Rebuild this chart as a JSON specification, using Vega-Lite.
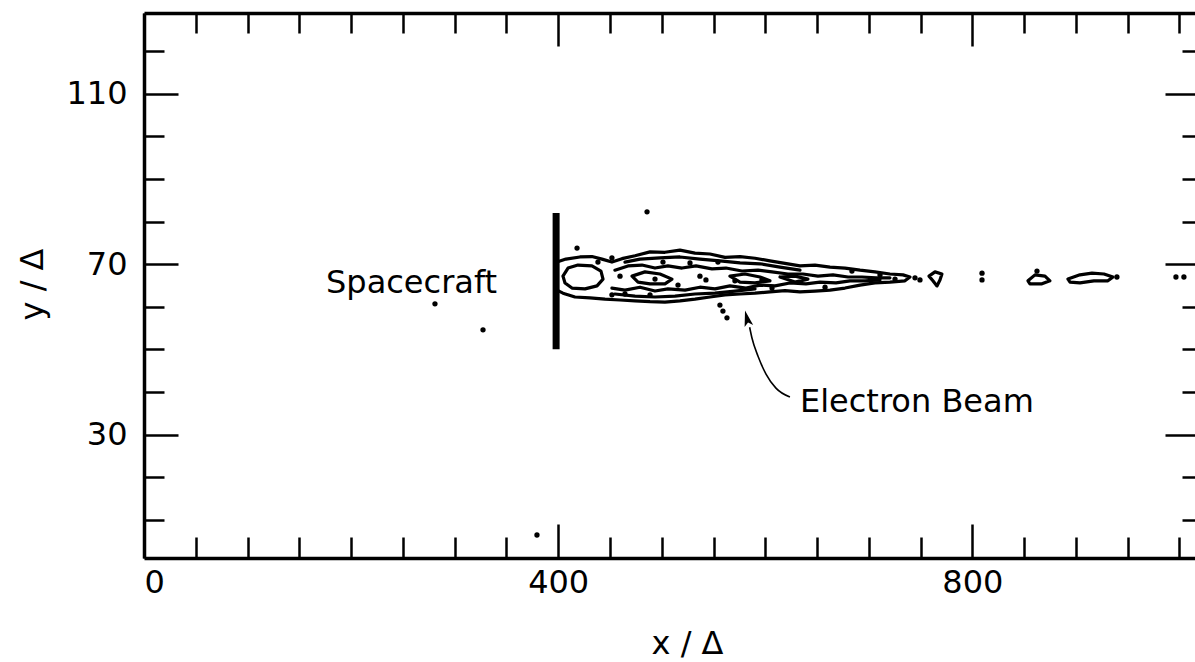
{
  "$schema": "https://vega.github.io/schema/vega-lite/v6.json",
  "width": 1051,
  "height": 545,
  "autosize": "none",
  "padding": {"left": 144, "top": 13, "right": 0, "bottom": 104},
  "background": "white",
  "config": {
    "view": {"stroke": null},
    "font": "DejaVu Sans"
  },
  "datasets": {
    "contours": [
      {"path": "outer", "seq": 1, "x": 398.8, "y": 70.5},
      {"path": "outer", "seq": 2, "x": 407.5, "y": 71.2},
      {"path": "outer", "seq": 3, "x": 421.0, "y": 71.7},
      {"path": "outer", "seq": 4, "x": 432.6, "y": 71.8},
      {"path": "outer", "seq": 5, "x": 442.3, "y": 71.2},
      {"path": "outer", "seq": 6, "x": 451.9, "y": 70.5},
      {"path": "outer", "seq": 7, "x": 461.6, "y": 71.3},
      {"path": "outer", "seq": 8, "x": 474.2, "y": 72.0},
      {"path": "outer", "seq": 9, "x": 488.7, "y": 72.9},
      {"path": "outer", "seq": 10, "x": 503.1, "y": 72.8},
      {"path": "outer", "seq": 11, "x": 517.6, "y": 73.3},
      {"path": "outer", "seq": 12, "x": 532.1, "y": 72.6},
      {"path": "outer", "seq": 13, "x": 546.6, "y": 72.4},
      {"path": "outer", "seq": 14, "x": 561.1, "y": 71.6},
      {"path": "outer", "seq": 15, "x": 575.6, "y": 71.8},
      {"path": "outer", "seq": 16, "x": 590.1, "y": 71.4},
      {"path": "outer", "seq": 17, "x": 604.5, "y": 70.8},
      {"path": "outer", "seq": 18, "x": 619.0, "y": 70.2},
      {"path": "outer", "seq": 19, "x": 633.5, "y": 69.6},
      {"path": "outer", "seq": 20, "x": 648.0, "y": 69.8},
      {"path": "outer", "seq": 21, "x": 662.5, "y": 69.3},
      {"path": "outer", "seq": 22, "x": 677.0, "y": 69.1},
      {"path": "outer", "seq": 23, "x": 691.5, "y": 68.6},
      {"path": "outer", "seq": 24, "x": 705.9, "y": 68.2},
      {"path": "outer", "seq": 25, "x": 720.4, "y": 67.7},
      {"path": "outer", "seq": 26, "x": 733.0, "y": 67.5},
      {"path": "outer", "seq": 27, "x": 739.7, "y": 67.0},
      {"path": "outer", "seq": 28, "x": 734.9, "y": 66.1},
      {"path": "outer", "seq": 29, "x": 720.4, "y": 65.8},
      {"path": "outer", "seq": 30, "x": 705.9, "y": 65.6},
      {"path": "outer", "seq": 31, "x": 691.5, "y": 65.1},
      {"path": "outer", "seq": 32, "x": 677.0, "y": 64.4},
      {"path": "outer", "seq": 33, "x": 662.5, "y": 63.9},
      {"path": "outer", "seq": 34, "x": 648.0, "y": 63.7},
      {"path": "outer", "seq": 35, "x": 633.5, "y": 63.5},
      {"path": "outer", "seq": 36, "x": 619.0, "y": 63.8},
      {"path": "outer", "seq": 37, "x": 604.5, "y": 63.5},
      {"path": "outer", "seq": 38, "x": 590.1, "y": 63.2},
      {"path": "outer", "seq": 39, "x": 575.6, "y": 63.0},
      {"path": "outer", "seq": 40, "x": 561.1, "y": 62.8},
      {"path": "outer", "seq": 41, "x": 546.6, "y": 62.3},
      {"path": "outer", "seq": 42, "x": 532.1, "y": 61.8},
      {"path": "outer", "seq": 43, "x": 517.6, "y": 61.4},
      {"path": "outer", "seq": 44, "x": 503.1, "y": 61.1},
      {"path": "outer", "seq": 45, "x": 488.7, "y": 61.2},
      {"path": "outer", "seq": 46, "x": 474.2, "y": 61.4},
      {"path": "outer", "seq": 47, "x": 459.7, "y": 61.6},
      {"path": "outer", "seq": 48, "x": 445.2, "y": 61.8},
      {"path": "outer", "seq": 49, "x": 430.7, "y": 62.1},
      {"path": "outer", "seq": 50, "x": 416.2, "y": 62.3},
      {"path": "outer", "seq": 51, "x": 404.6, "y": 63.2},
      {"path": "outer", "seq": 52, "x": 398.8, "y": 63.9},

      {"path": "bubble", "seq": 1, "x": 404.6, "y": 67.2},
      {"path": "bubble", "seq": 2, "x": 409.5, "y": 69.1},
      {"path": "bubble", "seq": 3, "x": 419.1, "y": 69.8},
      {"path": "bubble", "seq": 4, "x": 432.6, "y": 69.6},
      {"path": "bubble", "seq": 5, "x": 441.3, "y": 68.4},
      {"path": "bubble", "seq": 6, "x": 443.3, "y": 66.5},
      {"path": "bubble", "seq": 7, "x": 437.5, "y": 64.9},
      {"path": "bubble", "seq": 8, "x": 425.9, "y": 64.2},
      {"path": "bubble", "seq": 9, "x": 413.3, "y": 64.4},
      {"path": "bubble", "seq": 10, "x": 406.6, "y": 65.6},
      {"path": "bubble", "seq": 11, "x": 404.6, "y": 67.2},

      {"path": "top2", "seq": 1, "x": 464.5, "y": 70.5},
      {"path": "top2", "seq": 2, "x": 479.0, "y": 71.2},
      {"path": "top2", "seq": 3, "x": 498.3, "y": 71.5},
      {"path": "top2", "seq": 4, "x": 517.6, "y": 71.7},
      {"path": "top2", "seq": 5, "x": 536.9, "y": 71.2},
      {"path": "top2", "seq": 6, "x": 556.2, "y": 70.8},
      {"path": "top2", "seq": 7, "x": 575.6, "y": 70.3},
      {"path": "top2", "seq": 8, "x": 594.9, "y": 70.1},
      {"path": "top2", "seq": 9, "x": 614.2, "y": 69.3},
      {"path": "top2", "seq": 10, "x": 633.5, "y": 68.6},

      {"path": "inner1", "seq": 1, "x": 454.8, "y": 68.6},
      {"path": "inner1", "seq": 2, "x": 467.4, "y": 69.6},
      {"path": "inner1", "seq": 3, "x": 480.9, "y": 69.8},
      {"path": "inner1", "seq": 4, "x": 493.5, "y": 69.1},
      {"path": "inner1", "seq": 5, "x": 506.0, "y": 69.6},
      {"path": "inner1", "seq": 6, "x": 519.6, "y": 69.1},
      {"path": "inner1", "seq": 7, "x": 533.1, "y": 69.6},
      {"path": "inner1", "seq": 8, "x": 548.5, "y": 68.9},
      {"path": "inner1", "seq": 9, "x": 562.0, "y": 69.1},
      {"path": "inner1", "seq": 10, "x": 577.5, "y": 68.4},
      {"path": "inner1", "seq": 11, "x": 593.0, "y": 68.6},
      {"path": "inner1", "seq": 12, "x": 606.5, "y": 68.2},
      {"path": "inner1", "seq": 13, "x": 621.9, "y": 67.7},
      {"path": "inner1", "seq": 14, "x": 636.4, "y": 67.7},
      {"path": "inner1", "seq": 15, "x": 650.9, "y": 67.2},
      {"path": "inner1", "seq": 16, "x": 665.4, "y": 67.5},
      {"path": "inner1", "seq": 17, "x": 679.9, "y": 67.0},
      {"path": "inner1", "seq": 18, "x": 693.4, "y": 67.0},
      {"path": "inner1", "seq": 19, "x": 706.9, "y": 66.8},
      {"path": "inner1", "seq": 20, "x": 720.4, "y": 66.8},

      {"path": "inner2", "seq": 1, "x": 451.9, "y": 64.4},
      {"path": "inner2", "seq": 2, "x": 464.5, "y": 63.9},
      {"path": "inner2", "seq": 3, "x": 479.0, "y": 64.6},
      {"path": "inner2", "seq": 4, "x": 493.5, "y": 63.7},
      {"path": "inner2", "seq": 5, "x": 506.0, "y": 64.2},
      {"path": "inner2", "seq": 6, "x": 522.5, "y": 63.9},
      {"path": "inner2", "seq": 7, "x": 536.9, "y": 64.6},
      {"path": "inner2", "seq": 8, "x": 551.4, "y": 64.2},
      {"path": "inner2", "seq": 9, "x": 565.9, "y": 64.9},
      {"path": "inner2", "seq": 10, "x": 581.4, "y": 64.4},
      {"path": "inner2", "seq": 11, "x": 594.9, "y": 65.1},
      {"path": "inner2", "seq": 12, "x": 609.4, "y": 64.9},
      {"path": "inner2", "seq": 13, "x": 623.8, "y": 65.6},
      {"path": "inner2", "seq": 14, "x": 639.3, "y": 65.4},
      {"path": "inner2", "seq": 15, "x": 652.8, "y": 65.8},
      {"path": "inner2", "seq": 16, "x": 668.3, "y": 65.6},
      {"path": "inner2", "seq": 17, "x": 681.8, "y": 66.1},
      {"path": "inner2", "seq": 18, "x": 696.3, "y": 66.1},
      {"path": "inner2", "seq": 19, "x": 710.8, "y": 66.3},

      {"path": "bottom2", "seq": 1, "x": 454.8, "y": 63.0},
      {"path": "bottom2", "seq": 2, "x": 474.2, "y": 62.5},
      {"path": "bottom2", "seq": 3, "x": 493.5, "y": 62.3},
      {"path": "bottom2", "seq": 4, "x": 512.8, "y": 62.5},
      {"path": "bottom2", "seq": 5, "x": 532.1, "y": 63.0},
      {"path": "bottom2", "seq": 6, "x": 551.4, "y": 63.2},
      {"path": "bottom2", "seq": 7, "x": 570.7, "y": 63.7},
      {"path": "bottom2", "seq": 8, "x": 590.1, "y": 64.2},

      {"path": "loop3", "seq": 1, "x": 471.3, "y": 67.2},
      {"path": "loop3", "seq": 2, "x": 483.8, "y": 68.2},
      {"path": "loop3", "seq": 3, "x": 498.3, "y": 67.7},
      {"path": "loop3", "seq": 4, "x": 509.9, "y": 66.5},
      {"path": "loop3", "seq": 5, "x": 503.1, "y": 65.4},
      {"path": "loop3", "seq": 6, "x": 488.7, "y": 65.4},
      {"path": "loop3", "seq": 7, "x": 477.1, "y": 65.8},
      {"path": "loop3", "seq": 8, "x": 471.3, "y": 67.2},

      {"path": "loop4", "seq": 1, "x": 565.9, "y": 67.2},
      {"path": "loop4", "seq": 2, "x": 580.4, "y": 67.7},
      {"path": "loop4", "seq": 3, "x": 594.9, "y": 67.0},
      {"path": "loop4", "seq": 4, "x": 604.5, "y": 66.1},
      {"path": "loop4", "seq": 5, "x": 590.1, "y": 65.6},
      {"path": "loop4", "seq": 6, "x": 575.6, "y": 65.8},
      {"path": "loop4", "seq": 7, "x": 565.9, "y": 67.2},

      {"path": "loop5", "seq": 1, "x": 614.2, "y": 67.0},
      {"path": "loop5", "seq": 2, "x": 628.7, "y": 67.2},
      {"path": "loop5", "seq": 3, "x": 641.2, "y": 66.5},
      {"path": "loop5", "seq": 4, "x": 628.7, "y": 65.8},
      {"path": "loop5", "seq": 5, "x": 614.2, "y": 67.0},

      {"path": "blobA", "seq": 1, "x": 758.1, "y": 67.2},
      {"path": "blobA", "seq": 2, "x": 763.9, "y": 68.2},
      {"path": "blobA", "seq": 3, "x": 770.6, "y": 67.7},
      {"path": "blobA", "seq": 4, "x": 768.7, "y": 66.3},
      {"path": "blobA", "seq": 5, "x": 765.8, "y": 64.9},
      {"path": "blobA", "seq": 6, "x": 761.9, "y": 66.1},
      {"path": "blobA", "seq": 7, "x": 758.1, "y": 67.2},

      {"path": "blobB", "seq": 1, "x": 853.7, "y": 66.1},
      {"path": "blobB", "seq": 2, "x": 860.5, "y": 67.5},
      {"path": "blobB", "seq": 3, "x": 870.1, "y": 67.2},
      {"path": "blobB", "seq": 4, "x": 874.9, "y": 66.1},
      {"path": "blobB", "seq": 5, "x": 867.2, "y": 65.4},
      {"path": "blobB", "seq": 6, "x": 855.6, "y": 65.4},
      {"path": "blobB", "seq": 7, "x": 853.7, "y": 66.1},

      {"path": "blobC", "seq": 1, "x": 892.3, "y": 66.5},
      {"path": "blobC", "seq": 2, "x": 903.9, "y": 67.5},
      {"path": "blobC", "seq": 3, "x": 915.5, "y": 67.9},
      {"path": "blobC", "seq": 4, "x": 927.1, "y": 67.7},
      {"path": "blobC", "seq": 5, "x": 935.8, "y": 67.0},
      {"path": "blobC", "seq": 6, "x": 930.9, "y": 66.1},
      {"path": "blobC", "seq": 7, "x": 917.4, "y": 66.1},
      {"path": "blobC", "seq": 8, "x": 903.9, "y": 65.6},
      {"path": "blobC", "seq": 9, "x": 894.3, "y": 65.8},
      {"path": "blobC", "seq": 10, "x": 892.3, "y": 66.5}
    ],
    "specks": [
      {"x": 418.2, "y": 73.8}, {"x": 485.8, "y": 82.3}, {"x": 281.0, "y": 60.7},
      {"x": 327.4, "y": 54.6}, {"x": 379.5, "y": 6.4}, {"x": 556.2, "y": 60.4},
      {"x": 559.1, "y": 59.0}, {"x": 563.0, "y": 57.4}, {"x": 809.3, "y": 67.9},
      {"x": 809.3, "y": 66.3}, {"x": 862.4, "y": 68.4}, {"x": 939.6, "y": 67.0},
      {"x": 725.3, "y": 66.5}, {"x": 744.6, "y": 66.8}, {"x": 749.4, "y": 66.3},
      {"x": 996.6, "y": 67.0}, {"x": 1004.3, "y": 67.0}, {"x": 459.7, "y": 67.2},
      {"x": 493.5, "y": 66.5}, {"x": 501.2, "y": 70.5}, {"x": 515.7, "y": 65.1},
      {"x": 527.3, "y": 70.3}, {"x": 542.7, "y": 66.3}, {"x": 554.3, "y": 70.5},
      {"x": 570.7, "y": 66.1}, {"x": 536.9, "y": 67.2}, {"x": 596.8, "y": 66.3},
      {"x": 488.7, "y": 62.8}, {"x": 451.9, "y": 62.8}, {"x": 464.5, "y": 63.0},
      {"x": 606.5, "y": 64.4}, {"x": 657.7, "y": 64.6}, {"x": 683.7, "y": 68.4},
      {"x": 710.8, "y": 67.5}, {"x": 438.4, "y": 70.5}, {"x": 451.9, "y": 71.5}
    ],
    "pointer": [
      {"seq": 1, "x": 623.8, "y": 38.8},
      {"seq": 2, "x": 610.3, "y": 40.9},
      {"seq": 3, "x": 600.7, "y": 44.2},
      {"seq": 4, "x": 593.0, "y": 48.4},
      {"seq": 5, "x": 587.2, "y": 52.6},
      {"seq": 6, "x": 584.9, "y": 55.2}
    ],
    "labels": [
      {"text": "Spacecraft", "x": 175.8, "y": 63.2},
      {"text": "Electron Beam", "x": 633.5, "y": 35.3}
    ]
  },
  "layer": [
    {
      "data": {"values": [{"x": 398, "y": 50, "y2": 82}]},
      "mark": {"type": "rule", "strokeWidth": 7, "color": "black"},
      "encoding": {
        "x": {
          "field": "x", "type": "quantitative",
          "scale": {"domain": [0, 1015], "nice": false, "zero": false},
          "axis": {
            "orient": "bottom",
            "values": [0, 50, 100, 150, 200, 250, 300, 350, 400, 450, 500, 550, 600, 650, 700, 750, 800, 850, 900, 950, 1000],
            "labelExpr": "datum.value % 400 === 0 ? datum.label : ''",
            "labelOverlap": false,
            "labelBound": false,
            "labelFlush": true,
            "labelFont": "DejaVu Sans", "labelFontSize": 32, "labelColor": "black",
            "labelPadding": 43,
            "tickSize": {"condition": {"test": "datum.value % 400 === 0", "value": -34}, "value": -21},
            "tickWidth": 2.5, "tickColor": "black",
            "domain": true, "domainWidth": 3.5, "domainColor": "black",
            "grid": false,
            "title": "x / Δ",
            "titleFont": "DejaVu Sans", "titleFontSize": 32, "titleFontWeight": "normal", "titleColor": "black",
            "titleX": 543, "titleY": 95, "titleBaseline": "alphabetic", "titleAlign": "center"
          }
        },
        "y": {
          "field": "y", "type": "quantitative",
          "scale": {"domain": [1, 129], "nice": false, "zero": false},
          "axis": {
            "orient": "left",
            "values": [10, 20, 30, 40, 50, 60, 70, 80, 90, 100, 110, 120],
            "labelExpr": "(datum.value - 30) % 40 === 0 ? datum.label : ''",
            "labelOverlap": false,
            "labelBound": false,
            "labelFont": "DejaVu Sans", "labelFontSize": 32, "labelColor": "black",
            "labelPadding": 51,
            "tickSize": {"condition": {"test": "(datum.value - 30) % 40 === 0", "value": -34}, "value": -20},
            "tickWidth": 2.5, "tickColor": "black",
            "domain": true, "domainWidth": 3.5, "domainColor": "black",
            "grid": false,
            "title": "y / Δ",
            "titleFont": "DejaVu Sans", "titleFontSize": 32, "titleFontWeight": "normal", "titleColor": "black",
            "titleAngle": -90, "titleX": -102, "titleY": 271, "titleBaseline": "alphabetic", "titleAlign": "center"
          }
        },
        "y2": {"field": "y2"}
      }
    },
    {
      "data": {"name": "contours"},
      "mark": {"type": "line", "color": "black", "strokeWidth": 3.2, "strokeJoin": "round", "strokeCap": "round"},
      "encoding": {
        "x": {
          "field": "x", "type": "quantitative",
          "scale": {"domain": [0, 1015], "nice": false, "zero": false},
          "axis": {
            "orient": "top",
            "values": [0, 50, 100, 150, 200, 250, 300, 350, 400, 450, 500, 550, 600, 650, 700, 750, 800, 850, 900, 950, 1000],
            "labels": false,
            "tickSize": {"condition": {"test": "datum.value % 400 === 0", "value": -33}, "value": -20},
            "tickWidth": 2.5, "tickColor": "black",
            "domain": true, "domainWidth": 3.5, "domainColor": "black",
            "grid": false, "title": null
          }
        },
        "y": {
          "field": "y", "type": "quantitative",
          "scale": {"domain": [1, 129], "nice": false, "zero": false},
          "axis": {
            "orient": "right",
            "values": [10, 20, 30, 40, 50, 60, 70, 80, 90, 100, 110, 120],
            "labels": false,
            "tickSize": {"condition": {"test": "(datum.value - 30) % 40 === 0", "value": -30}, "value": -13},
            "tickWidth": 2.5, "tickColor": "black",
            "domain": false,
            "grid": false, "title": null
          }
        },
        "detail": {"field": "path", "type": "nominal"},
        "order": {"field": "seq", "type": "quantitative"}
      }
    },
    {
      "data": {"name": "specks"},
      "mark": {"type": "point", "filled": true, "color": "black", "size": 28, "opacity": 1},
      "encoding": {
        "x": {"field": "x", "type": "quantitative", "scale": {"domain": [0, 1015], "nice": false, "zero": false}, "axis": null},
        "y": {"field": "y", "type": "quantitative", "scale": {"domain": [1, 129], "nice": false, "zero": false}, "axis": null}
      }
    },
    {
      "data": {"name": "pointer"},
      "mark": {"type": "line", "color": "black", "strokeWidth": 1.6, "interpolate": "monotone"},
      "encoding": {
        "x": {"field": "x", "type": "quantitative", "scale": {"domain": [0, 1015], "nice": false, "zero": false}, "axis": null},
        "y": {"field": "y", "type": "quantitative", "scale": {"domain": [1, 129], "nice": false, "zero": false}, "axis": null},
        "order": {"field": "seq", "type": "quantitative"}
      }
    },
    {
      "data": {"values": [{"x": 582.3, "y": 57.3}]},
      "mark": {"type": "point", "filled": true, "color": "black", "opacity": 1, "size": 256, "angle": -14, "shape": "M0,-1L0.55,1L0,0.55L-0.55,1Z"},
      "encoding": {
        "x": {"field": "x", "type": "quantitative", "scale": {"domain": [0, 1015], "nice": false, "zero": false}, "axis": null},
        "y": {"field": "y", "type": "quantitative", "scale": {"domain": [1, 129], "nice": false, "zero": false}, "axis": null}
      }
    },
    {
      "data": {"name": "labels"},
      "mark": {"type": "text", "align": "left", "baseline": "alphabetic", "font": "DejaVu Sans", "fontSize": 32, "color": "black"},
      "encoding": {
        "x": {"field": "x", "type": "quantitative", "scale": {"domain": [0, 1015], "nice": false, "zero": false}, "axis": null},
        "y": {"field": "y", "type": "quantitative", "scale": {"domain": [1, 129], "nice": false, "zero": false}, "axis": null},
        "text": {"field": "text"}
      }
    }
  ],
  "resolve": {"axis": {"x": "independent", "y": "independent"}}
}
